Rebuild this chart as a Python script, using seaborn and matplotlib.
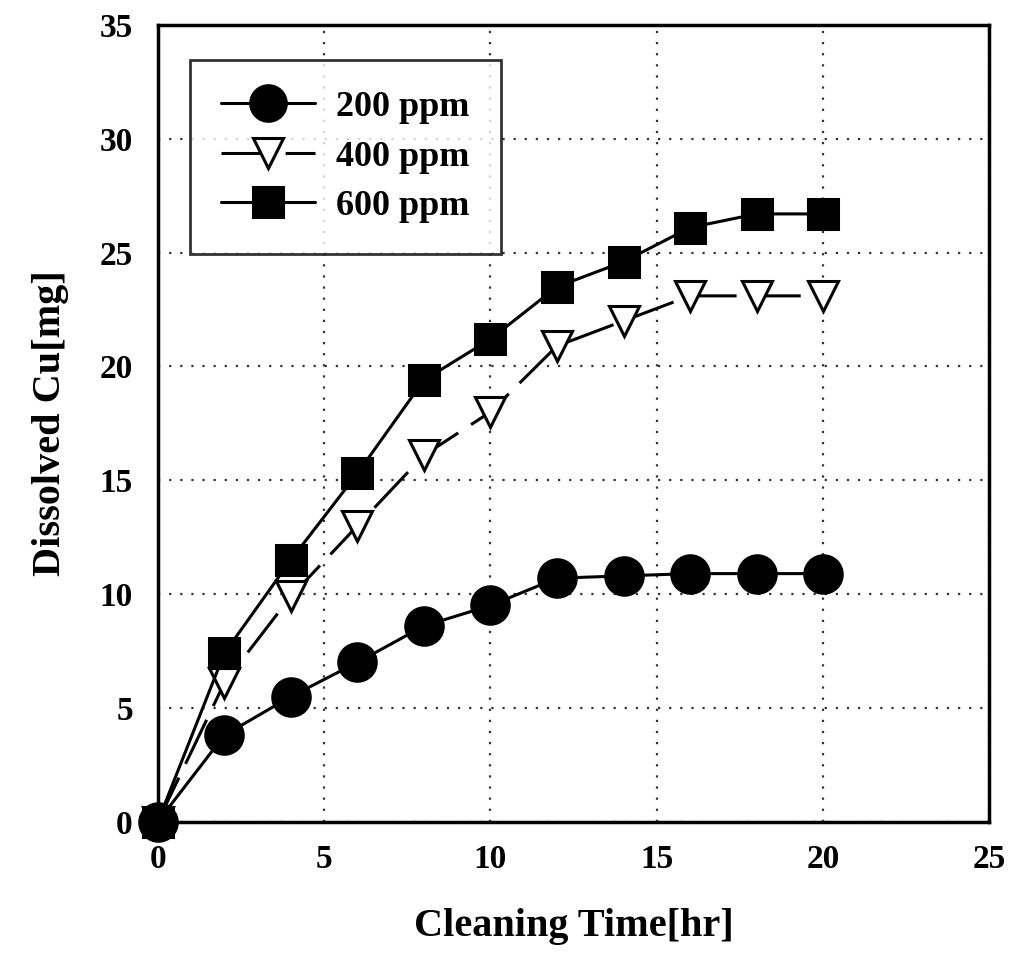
import pandas as pd
import seaborn as sns
import numpy as np
import matplotlib.pyplot as plt

# cleaning time [hr]
hours = [0, 2, 4, 6, 8, 10, 12, 14, 16, 18, 20]
# dissolved Cu [mg] for each concentration
cu_200 = [0, 3.8, 5.5, 7.0, 8.6, 9.5, 10.7, 10.8, 10.9, 10.9, 10.9]
cu_400 = [0, 6.1, 9.9, 13.0, 16.1, 18.0, 20.9, 22.0, 23.1, 23.1, 23.1]
cu_600 = [0, 7.4, 11.5, 15.3, 19.4, 21.2, 23.5, 24.6, 26.1, 26.7, 26.7]
labels = ['200 ppm', '400 ppm', '600 ppm']

sns.set_theme(style='white')
plt.rcParams['font.family'] = ['Liberation Serif', 'DejaVu Serif']
plt.rcParams['font.weight'] = 'bold'
plt.rcParams['text.color'] = 'black'

fig = plt.figure(figsize=(10.18, 9.6), dpi=100)
ax = fig.add_axes([0.155, 0.144, 0.817, 0.830])

styles = [
    dict(marker='o', markersize=27, markerfacecolor='black', linestyle='-'),
    dict(marker='v', markersize=22, markerfacecolor='white', linestyle=(0, (16, 5))),
    dict(marker='s', markersize=22, markerfacecolor='black', linestyle='-'),
]
for y, lab, st in zip([cu_200, cu_400, cu_600], labels, styles):
    df = pd.DataFrame({'t': hours, 'cu': y})
    sns.lineplot(data=df, x='t', y='cu', ax=ax, color='black', linewidth=2.2,
                 markeredgecolor='black', markeredgewidth=2.2, label=lab,
                 clip_on=False, zorder=5, **st)

ax.set_xlim(0, 25)
ax.set_ylim(0, 35)
ax.set_xticks(np.arange(0, 26, 5))
ax.set_yticks(np.arange(0, 36, 5))
ax.tick_params(direction='in', length=8, width=2, labelsize=24, pad=16,
               colors='black', labelcolor='black')
ax.tick_params(axis='y', pad=18)
for sp in ax.spines.values():
    sp.set_linewidth(2.5)
    sp.set_color('black')
ax.grid(True, linestyle=(0, (1, 4)), color='#333333', linewidth=1.6)

ax.set_xlabel('Cleaning Time[hr]', fontsize=29, fontweight='bold', labelpad=24,
              color='black')
ax.set_ylabel('Dissolved Cu[mg]', fontsize=29, fontweight='bold', labelpad=22,
              color='black')

leg = ax.legend(loc='upper left', bbox_to_anchor=(0.039, 0.956), borderaxespad=0,
                fontsize=26, frameon=True, fancybox=False, edgecolor='black',
                handlelength=2.6, borderpad=0.85, labelspacing=0.45,
                handletextpad=0.6, markerscale=0.95)
leg.get_frame().set_linewidth(2)
for t in leg.get_texts():
    t.set_color('black')

fig.savefig('out.png', dpi=100)
